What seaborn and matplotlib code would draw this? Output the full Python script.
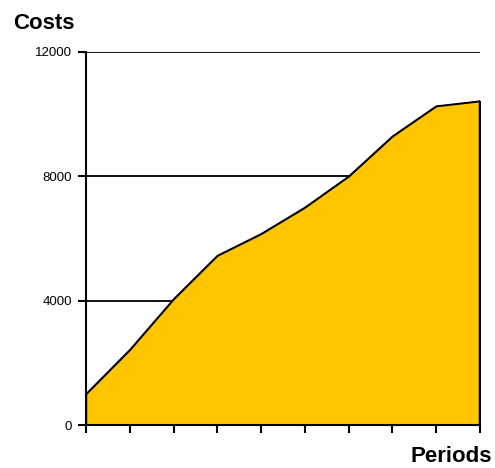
import pandas as pd
import matplotlib.pyplot as plt
import seaborn as sns

# Values
periods = [0, 1, 2, 3, 4, 5, 6, 7, 8, 9]
costs = [1000, 2420, 4050, 5450, 6150, 7000, 8000, 9290, 10260, 10420]
y_ticks = [0, 4000, 8000, 12000]

df = pd.DataFrame({'period': periods, 'cost': costs})

sns.set_style('white')
plt.rcParams['font.family'] = ['Liberation Sans', 'DejaVu Sans']
plt.rcParams['text.color'] = 'black'
plt.rcParams['xtick.color'] = 'black'
plt.rcParams['ytick.color'] = 'black'

fig = plt.figure(figsize=(4.95, 4.68), dpi=100)
ax = fig.add_axes([86 / 495, 1 - 425 / 468, 394 / 495, 373 / 468])

# Area with black outline
ax.fill_between(df['period'], df['cost'], color='#FFC600', edgecolor='black',
                linewidth=1.0, zorder=2)
sns.lineplot(data=df, x='period', y='cost', color='black', linewidth=1.0, ax=ax, zorder=3)
ax.plot([periods[-1], periods[-1]], [0, costs[-1]], color='black', linewidth=2.5, zorder=3)

ax.set_xlim(periods[0], periods[-1])
ax.set_ylim(0, 12000)
ax.set_yticks(y_ticks)
ax.set_yticklabels([str(v) for v in y_ticks], fontsize=9.5, color='black')
ax.set_xticks(periods)
ax.set_xticklabels([])
ax.tick_params(axis='both', direction='out', length=6, width=1.5, color='black',
               left=True, bottom=True, pad=4)

ax.grid(axis='y', color='black', linewidth=1.3, zorder=1)
ax.grid(axis='x', visible=False)
ax.set_axisbelow(True)

for side in ['top', 'right']:
    ax.spines[side].set_visible(False)
for side in ['left', 'bottom']:
    ax.spines[side].set_color('black')
    ax.spines[side].set_linewidth(1.5)

ax.set_xlabel('')
ax.set_ylabel('')

fig.text(13 / 495, 1 - 29 / 468, 'Costs', fontsize=16, fontweight='bold',
         color='black', ha='left', va='baseline')
fig.text(492 / 495, 1 - 462 / 468, 'Periods', fontsize=16, fontweight='bold',
         color='black', ha='right', va='baseline')

fig.savefig('out.png', dpi=100)
